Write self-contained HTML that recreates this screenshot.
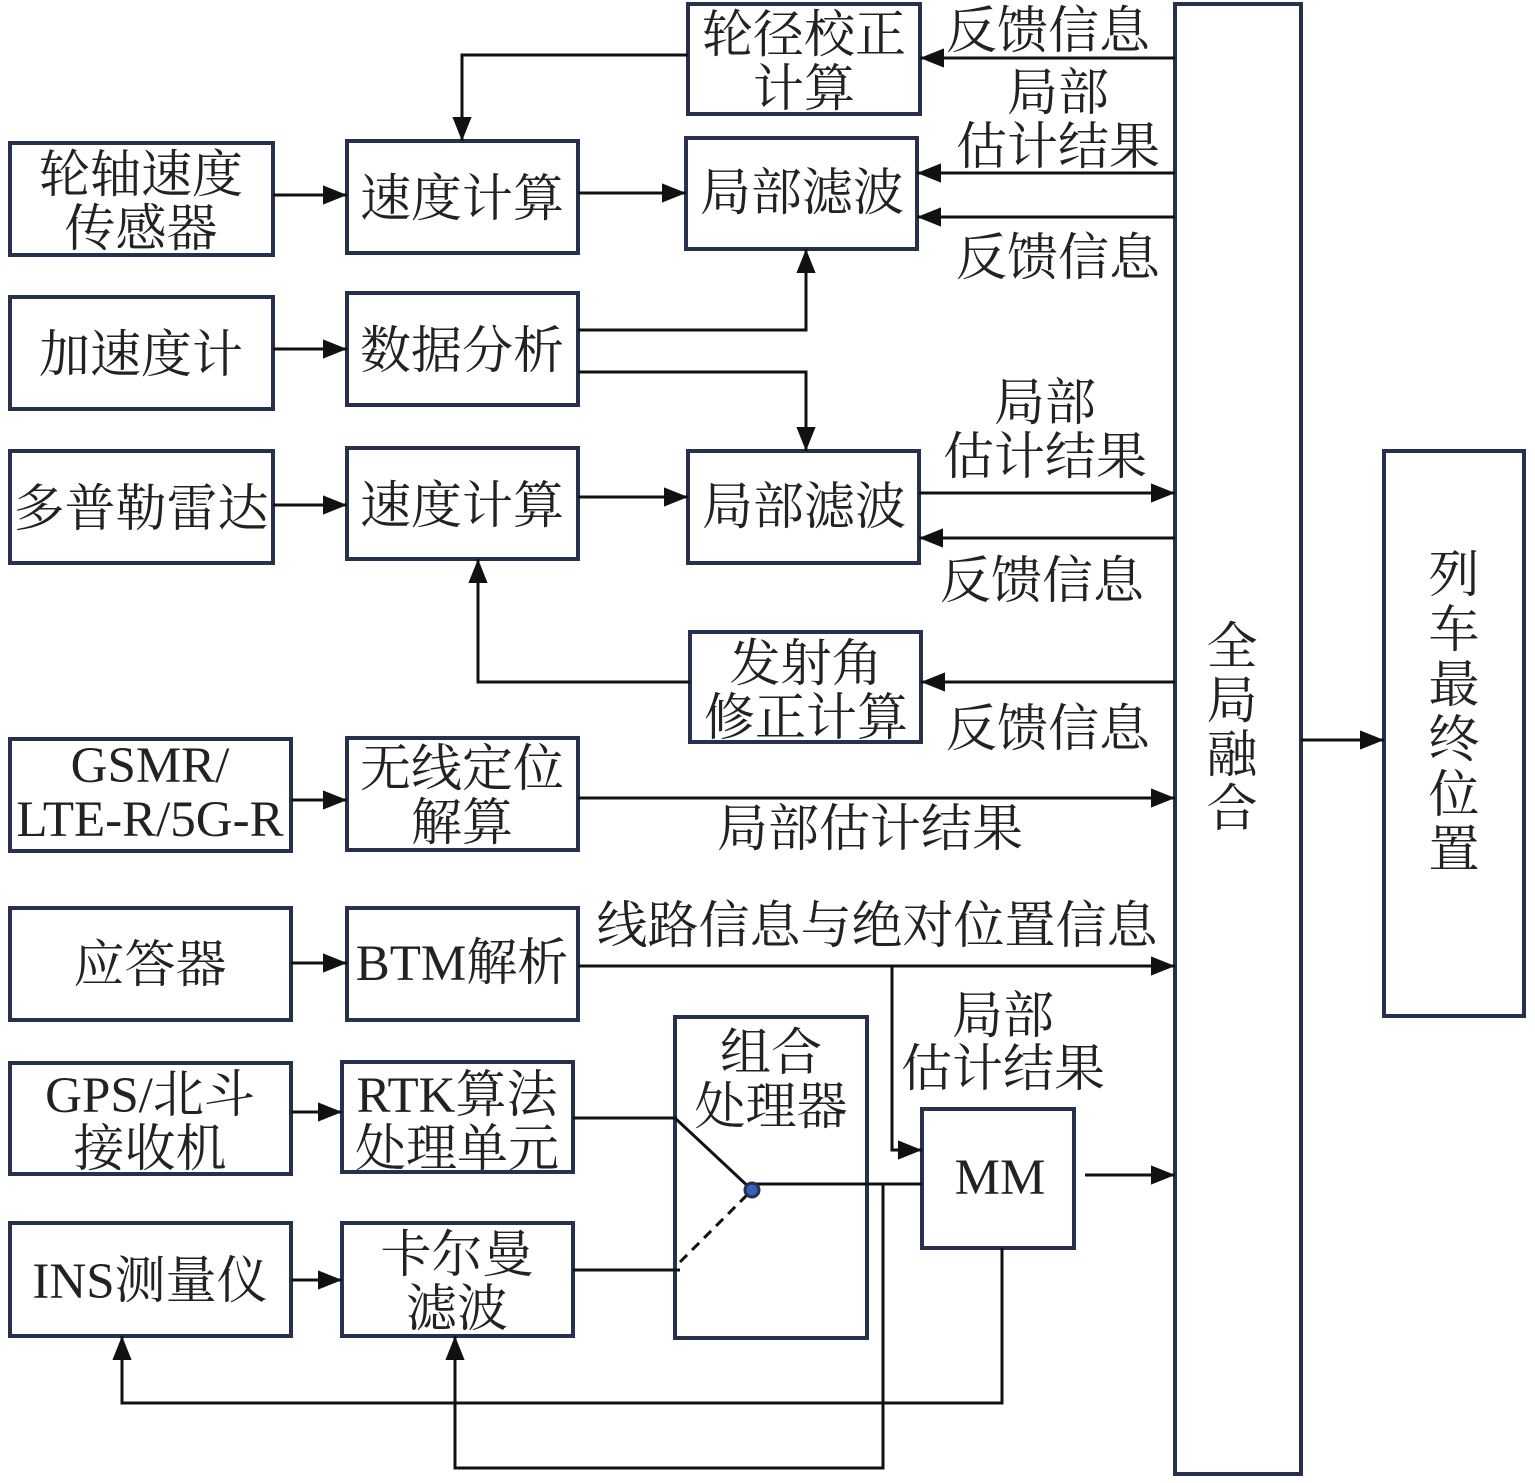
<!DOCTYPE html>
<html><head><meta charset="utf-8"><style>
html,body{margin:0;padding:0;background:#fff}
svg text{font-family:"Liberation Serif","Noto Serif CJK SC",serif;fill:#222;font-size:51px;text-anchor:middle}
</style></head><body>
<svg width="1535" height="1478" viewBox="0 0 1535 1478" xmlns="http://www.w3.org/2000/svg">
<defs><marker id="b" viewBox="0 0 10 10" refX="10" refY="5" markerWidth="24" markerHeight="24" markerUnits="userSpaceOnUse" orient="auto"><path d="M0,1L10,5L0,9z" fill="#111"/></marker></defs>
<g fill="none" stroke="#28304f" stroke-width="4">
<rect x="688" y="4" width="232" height="110"/>
<rect x="10" y="143" width="263" height="112"/>
<rect x="347" y="141" width="231" height="112"/>
<rect x="686" y="138" width="231" height="111"/>
<rect x="10" y="297" width="263" height="112"/>
<rect x="347" y="293" width="231" height="112"/>
<rect x="10" y="451" width="263" height="112"/>
<rect x="347" y="448" width="231" height="111"/>
<rect x="688" y="451" width="231" height="112"/>
<rect x="690" y="632" width="231" height="110"/>
<rect x="10" y="739" width="281" height="112"/>
<rect x="347" y="738" width="231" height="112"/>
<rect x="10" y="908" width="281" height="112"/>
<rect x="347" y="908" width="231" height="112"/>
<rect x="10" y="1063" width="281" height="111"/>
<rect x="342" y="1062" width="231" height="110"/>
<rect x="10" y="1223" width="281" height="113"/>
<rect x="342" y="1223" width="231" height="113"/>
<rect x="675" y="1017" width="192" height="321"/>
<rect x="922" y="1109" width="152" height="139"/>
<rect x="1175" y="4" width="126" height="1470"/>
<rect x="1384" y="451" width="140" height="565"/>
</g>
<g fill="none" stroke="#111" stroke-width="3" marker-end="url(#b)">
<path d="M688,55H462V141"/>
<path d="M1175,58H920"/>
<path d="M1175,173H917"/>
<path d="M1175,217H917"/>
<path d="M273,195H347"/>
<path d="M578,193H686"/>
<path d="M578,330H806V249"/>
<path d="M578,372H806V451"/>
<path d="M273,349H347"/>
<path d="M273,505H347"/>
<path d="M578,497H688"/>
<path d="M919,493H1175"/>
<path d="M1175,538H919"/>
<path d="M690,682H478V559"/>
<path d="M1175,682H921"/>
<path d="M291,800H347"/>
<path d="M578,798H1175"/>
<path d="M291,963H347"/>
<path d="M578,966H1175"/>
<path d="M892,966V1150H922"/>
<path d="M1085,1175H1175"/>
<path d="M1301,740H1384"/>
<path d="M291,1112H342"/>
<path d="M291,1280H342"/>
<path d="M883,1184V1468H455V1336"/>
<path d="M1002,1248V1403H122V1336"/>
</g>
<g fill="none" stroke="#111" stroke-width="3">
<path d="M573,1118H675L752,1190"/>
<path d="M573,1270H680"/>
<path d="M752,1184H922"/>
<path d="M680,1262L752,1190" stroke-dasharray="10,7"/>
</g>
<circle cx="752" cy="1190" r="7" fill="#3d5fb0" stroke="#28304f" stroke-width="3"/>
<text x="804" y="52">轮径校正</text><text x="804" y="106">计算</text>
<text x="141" y="192">轮轴速度</text><text x="141" y="246">传感器</text>
<text x="462" y="216">速度计算</text>
<text x="802" y="210">局部滤波</text>
<text x="141" y="372">加速度计</text>
<text x="462" y="368">数据分析</text>
<text x="141" y="526">多普勒雷达</text>
<text x="462" y="523">速度计算</text>
<text x="804" y="524">局部滤波</text>
<text x="806" y="681">发射角</text><text x="806" y="735">修正计算</text>
<text x="150" y="782">GSMR/</text><text x="150" y="836">LTE-R/5G-R</text>
<text x="462" y="786">无线定位</text><text x="462" y="840">解算</text>
<text x="150" y="982">应答器</text>
<text x="462" y="980">BTM解析</text>
<text x="150" y="1112">GPS/北斗</text><text x="150" y="1166">接收机</text>
<text x="457" y="1112">RTK算法</text><text x="457" y="1166">处理单元</text>
<text x="150" y="1298">INS测量仪</text>
<text x="457" y="1272">卡尔曼</text><text x="457" y="1326">滤波</text>
<text x="771" y="1070">组合</text><text x="771" y="1124">处理器</text>
<text x="1000" y="1194">MM</text>
<text x="1048" y="48">反馈信息</text>
<text x="1058" y="110">局部</text><text x="1058" y="164">估计结果</text>
<text x="1058" y="275">反馈信息</text>
<text x="1045" y="420">局部</text><text x="1045" y="474">估计结果</text>
<text x="1042" y="598">反馈信息</text>
<text x="1048" y="746">反馈信息</text>
<text x="870" y="846">局部估计结果</text>
<text x="877" y="943">线路信息与绝对位置信息</text>
<text x="1003" y="1033">局部</text><text x="1003" y="1086">估计结果</text>
<text x="1232" y="664">全</text><text x="1232" y="718">局</text><text x="1232" y="772">融</text><text x="1232" y="826">合</text>
<text x="1454" y="592">列</text><text x="1454" y="647">车</text><text x="1454" y="702">最</text><text x="1454" y="757">终</text><text x="1454" y="812">位</text><text x="1454" y="867">置</text>
</svg>
</body></html>
